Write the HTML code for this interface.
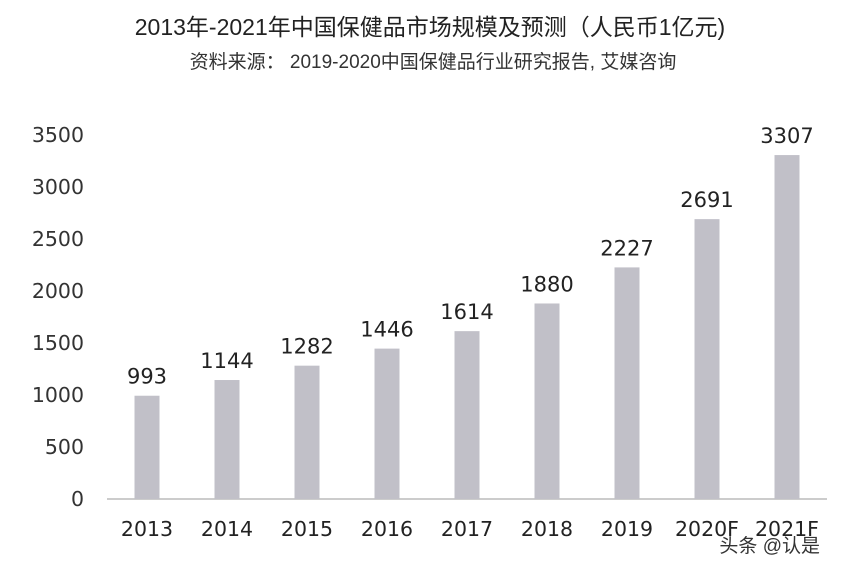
<!DOCTYPE html>
<html><head><meta charset="utf-8"><style>
body{margin:0;background:#fff;width:860px;height:572px;overflow:hidden;font-family:"Liberation Sans","Noto Sans CJK SC",sans-serif}
</style></head><body>
<svg width="860" height="572" id="c" style="font-family:'Liberation Sans','Noto Sans CJK SC',sans-serif">
<text x="430" y="35" text-anchor="middle" font-size="23" fill="#222">2013年-2021年中国保健品市场规模及预测（人民币1亿元)</text>
<text x="433" y="68" text-anchor="middle" font-size="19" fill="#333">资料来源： 2019-2020中国保健品行业研究报告, 艾媒咨询</text>
<line x1="107" y1="499" x2="827" y2="499" stroke="#bbb" stroke-width="1.5"/>
<g id="bars"></g>
<text x="820" y="552" text-anchor="end" font-size="19" fill="#333">头条 @认是</text>
</svg>
<script>
const categories=["2013","2014","2015","2016","2017","2018","2019","2020F","2021F"];
const values=[993,1144,1282,1446,1614,1880,2227,2691,3307];
const yTicks=[0,500,1000,1500,2000,2500,3000,3500];
const ns="http://www.w3.org/2000/svg";
const g=document.getElementById('bars');
const F="'DejaVu Sans','Liberation Sans',sans-serif";
function y(v){return 499-v*(364/3500);}
function x(i){return 147+i*80;}
function mk(t,a,txt){const e=document.createElementNS(ns,t);for(const k in a)e.setAttribute(k,a[k]);if(txt!==undefined)e.textContent=txt;g.appendChild(e);return e;}
yTicks.forEach(t=>{
const e=mk('text',{x:84,y:y(t)+7,'text-anchor':'end','font-size':20.5,'font-family':F,fill:'#333'},t);


});
categories.forEach((c,i)=>{
const r=mk('rect',{x:x(i)-12.5,y:y(values[i]),width:25,height:499-y(values[i]),fill:'#c1c0c8'});


const l=mk('text',{x:x(i),y:y(values[i])-12,'text-anchor':'middle','font-size':21,'font-family':F,fill:'#222'},values[i]);


const xl=mk('text',{x:x(i),y:536,'text-anchor':'middle','font-size':20.5,'font-family':F,fill:'#222'},c);


});
</script>
</body></html>
